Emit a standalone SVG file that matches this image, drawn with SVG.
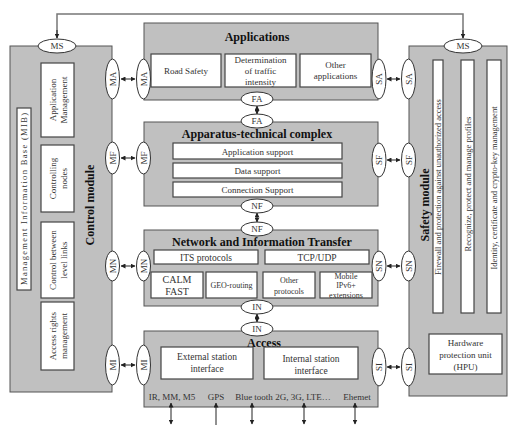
<svg xmlns="http://www.w3.org/2000/svg" width="509" height="425" viewBox="0 0 509 425" font-family="'Liberation Serif', 'DejaVu Serif', serif">
<defs>
<marker id="ah" viewBox="0 0 10 10" refX="9" refY="5" markerWidth="5" markerHeight="5" orient="auto-start-reverse" markerUnits="userSpaceOnUse">
<path d="M0,0 L10,5 L0,10 z" fill="#222"/>
</marker>
<style>
.layer{fill:#c0c0c0;stroke:#555;stroke-width:1}
.box{fill:#fff;stroke:#444;stroke-width:1.2}
.ell{fill:#fff;stroke:#333;stroke-width:1}
text{font-family:'Liberation Serif','DejaVu Serif',serif}
.t{font-size:9px;fill:#333;text-anchor:middle}
.s{font-size:8px}
.b{font-weight:bold;font-size:12px;fill:#111;text-anchor:middle}
.c{stroke:#222;stroke-width:1;fill:none}
.top{stroke:#777;stroke-width:1.5;fill:none}
</style>
</defs>
<rect width="509" height="425" fill="#fff"/>

<g id="control-module">
<rect class="layer" x="10" y="46" width="102" height="346"/>
<text class="b" transform="translate(94,205) rotate(-90)">Control module</text>
<rect class="box" x="17" y="108" width="14" height="182"/>
<text class="t" transform="translate(27,199) rotate(-90)" style="font-size:8.5px" textLength="172" lengthAdjust="spacing">Management Information Base (MIB)</text>
<rect class="box" x="41" y="63" width="33" height="74"/>
<text class="t" transform="translate(57,100) rotate(-90)"><tspan x="0" y="-1">Application</tspan><tspan x="0" y="10">Management</tspan></text>
<rect class="box" x="41" y="145" width="33" height="67"/>
<text class="t" transform="translate(57,178.5) rotate(-90)"><tspan x="0" y="-1">Controlling</tspan><tspan x="0" y="10">nodes</tspan></text>
<rect class="box" x="41" y="222" width="33" height="76"/>
<text class="t" transform="translate(57,260) rotate(-90)"><tspan x="0" y="-1">Control between</tspan><tspan x="0" y="10">level links</tspan></text>
<rect class="box" x="41" y="302" width="33" height="68"/>
<text class="t" transform="translate(57,336) rotate(-90)"><tspan x="0" y="-1">Access rights</tspan><tspan x="0" y="10">management</tspan></text>
</g>

<g id="safety-module">
<rect class="layer" x="409" y="46" width="98" height="350"/>
<text class="b" transform="translate(429,205) rotate(-90)">Safety module</text>
<rect class="box" x="433" y="60" width="10" height="253"/>
<text class="t" transform="translate(441,187) rotate(-90)" style="font-size:8.5px">Firewall and protection against unauthorized access</text>
<rect class="box" x="461" y="60" width="13" height="253"/>
<text class="t" transform="translate(470.5,184) rotate(-90)" style="font-size:8.5px">Recognize, protect and manage profiles</text>
<rect class="box" x="487" y="60" width="14" height="253"/>
<text class="t" transform="translate(497,188) rotate(-90)" style="font-size:8.5px">Identity, certificate and crypto-key management</text>
<rect class="box" x="429" y="334" width="73" height="40"/>
<text class="t"><tspan x="465.5" y="346">Hardware</tspan><tspan x="465.5" y="358">protection unit</tspan><tspan x="465.5" y="370">(HPU)</tspan></text>
</g>

<g id="applications">
<rect class="layer" x="144" y="23" width="234" height="77"/>
<text class="b" x="257" y="41">Applications</text>
<rect class="box" x="151" y="54" width="70" height="33"/>
<text class="t" x="186" y="74">Road Safety</text>
<rect class="box" x="225" y="54" width="71" height="33"/>
<text class="t"><tspan x="260.5" y="63">Determination</tspan><tspan x="260.5" y="74">of traffic</tspan><tspan x="260.5" y="85">intensity</tspan></text>
<rect class="box" x="300" y="54" width="71" height="33"/>
<text class="t"><tspan x="335.5" y="68">Other</tspan><tspan x="335.5" y="79">applications</tspan></text>
</g>

<g id="apparatus">
<rect class="layer" x="144" y="122" width="234" height="84"/>
<text class="b" x="257" y="138">Apparatus-technical  complex</text>
<rect class="box" x="173" y="143" width="169" height="16"/>
<text class="t" x="257.5" y="154.5">Application support</text>
<rect class="box" x="173" y="163" width="169" height="15"/>
<text class="t" x="257.5" y="174">Data support</text>
<rect class="box" x="173" y="182" width="169" height="15"/>
<text class="t" x="257.5" y="193">Connection Support</text>
</g>

<g id="network">
<rect class="layer" x="144" y="230" width="234" height="76"/>
<text class="b" x="262" y="246">Network and Information Transfer</text>
<rect class="box" x="154" y="250" width="104" height="14"/>
<text class="t" x="206" y="260.5" style="font-size:9.5px">ITS protocols</text>
<rect class="box" x="265" y="250" width="104" height="14"/>
<text class="t" x="317" y="260.5" style="font-size:9.5px">TCP/UDP</text>
<rect class="box" x="151" y="272" width="52" height="26"/>
<text class="t" style="font-size:10px"><tspan x="177" y="283">CALM</tspan><tspan x="177" y="294.5">FAST</tspan></text>
<rect class="box" x="206" y="272" width="51" height="26"/>
<text class="t s" x="231.5" y="288">GEO-routing</text>
<rect class="box" x="263" y="272" width="52" height="26"/>
<text class="t s"><tspan x="289" y="283">Other</tspan><tspan x="289" y="294">protocols</tspan></text>
<rect class="box" x="320" y="272" width="52" height="26"/>
<text class="t s"><tspan x="346" y="279">Mobile</tspan><tspan x="346" y="288">IPv6+</tspan><tspan x="346" y="297.5">extensions</tspan></text>
</g>

<g id="access">
<rect class="layer" x="144" y="331" width="234" height="76"/>
<text class="b" x="264" y="347">Access</text>
<rect class="box" x="161" y="347" width="92" height="32"/>
<text class="t" style="font-size:9.5px"><tspan x="207" y="360">External station</tspan><tspan x="207" y="372">interface</tspan></text>
<rect class="box" x="264" y="347" width="94" height="32"/>
<text class="t" style="font-size:9.5px"><tspan x="311" y="362">Internal station</tspan><tspan x="311" y="374">interface</tspan></text>
<text class="t" x="172" y="400">IR, MM, M5</text>
<text class="t" x="216" y="400">GPS</text>
<text class="t" x="254" y="400">Blue tooth</text>
<text class="t" x="303" y="400">2G, 3G, LTE…</text>
<text class="t" x="357" y="400">Ehemet</text>
</g>

<g id="interfaces">
<ellipse class="ell" cx="57" cy="46" rx="19" ry="7"/><text class="t" x="57" y="49">MS</text>
<ellipse class="ell" cx="463" cy="46" rx="19" ry="7"/><text class="t" x="463" y="49">MS</text>
<ellipse class="ell" cx="257" cy="99" rx="16" ry="7"/><text class="t" x="257" y="102">FA</text>
<ellipse class="ell" cx="257" cy="121" rx="16" ry="7"/><text class="t" x="257" y="124">FA</text>
<ellipse class="ell" cx="257" cy="206" rx="16" ry="7"/><text class="t" x="257" y="209">NF</text>
<ellipse class="ell" cx="257" cy="229" rx="16" ry="7"/><text class="t" x="257" y="232">NF</text>
<ellipse class="ell" cx="257" cy="307" rx="16" ry="7"/><text class="t" x="257" y="310">IN</text>
<ellipse class="ell" cx="257" cy="329" rx="16" ry="7"/><text class="t" x="257" y="332">IN</text>

<ellipse class="ell" cx="112.5" cy="79" rx="7" ry="20"/><text class="t" transform="translate(115.5,79) rotate(-90)">MA</text>
<ellipse class="ell" cx="143.5" cy="79" rx="7" ry="20"/><text class="t" transform="translate(146.5,79) rotate(-90)">MA</text>
<ellipse class="ell" cx="112.5" cy="158" rx="7" ry="16"/><text class="t" transform="translate(115.5,158) rotate(-90)">MF</text>
<ellipse class="ell" cx="143.5" cy="158" rx="7" ry="16"/><text class="t" transform="translate(146.5,158) rotate(-90)">MF</text>
<ellipse class="ell" cx="112.5" cy="266" rx="7" ry="15"/><text class="t" transform="translate(115.5,266) rotate(-90)">MN</text>
<ellipse class="ell" cx="143.5" cy="266" rx="7" ry="15"/><text class="t" transform="translate(146.5,266) rotate(-90)">MN</text>
<ellipse class="ell" cx="112.5" cy="365" rx="7" ry="20"/><text class="t" transform="translate(115.5,365) rotate(-90)">MI</text>
<ellipse class="ell" cx="143.5" cy="365" rx="7" ry="20"/><text class="t" transform="translate(146.5,365) rotate(-90)">MI</text>

<ellipse class="ell" cx="379" cy="79" rx="7" ry="20"/><text class="t" transform="translate(382,79) rotate(-90)">SA</text>
<ellipse class="ell" cx="408.5" cy="79" rx="7" ry="20"/><text class="t" transform="translate(411.5,79) rotate(-90)">SA</text>
<ellipse class="ell" cx="379" cy="160" rx="7" ry="17"/><text class="t" transform="translate(382,160) rotate(-90)">SF</text>
<ellipse class="ell" cx="408.5" cy="160" rx="7" ry="17"/><text class="t" transform="translate(411.5,160) rotate(-90)">SF</text>
<ellipse class="ell" cx="379" cy="266" rx="7" ry="15"/><text class="t" transform="translate(382,266) rotate(-90)">SN</text>
<ellipse class="ell" cx="408.5" cy="266" rx="7" ry="15"/><text class="t" transform="translate(411.5,266) rotate(-90)">SN</text>
<ellipse class="ell" cx="379" cy="367" rx="7" ry="19"/><text class="t" transform="translate(382,367) rotate(-90)">SI</text>
<ellipse class="ell" cx="408.5" cy="367" rx="7" ry="19"/><text class="t" transform="translate(411.5,367) rotate(-90)">SI</text>
</g>

<g id="connectors">
<path class="top" d="M57,38 V14 H463 V38"/>
<path class="c" d="M57,30 V38" marker-end="url(#ah)"/>
<path class="c" d="M463,30 V38" marker-end="url(#ah)"/>
<path class="c" d="M121,79 H135" marker-start="url(#ah)" marker-end="url(#ah)"/>
<path class="c" d="M121,158 H135" marker-start="url(#ah)" marker-end="url(#ah)"/>
<path class="c" d="M121,266 H135" marker-start="url(#ah)" marker-end="url(#ah)"/>
<path class="c" d="M121,365 H135" marker-start="url(#ah)" marker-end="url(#ah)"/>
<path class="c" d="M387,79 H400" marker-start="url(#ah)" marker-end="url(#ah)"/>
<path class="c" d="M387,160 H400" marker-start="url(#ah)" marker-end="url(#ah)"/>
<path class="c" d="M387,266 H400" marker-start="url(#ah)" marker-end="url(#ah)"/>
<path class="c" d="M387,367 H400" marker-start="url(#ah)" marker-end="url(#ah)"/>
<path class="c" d="M257,106 V114" marker-start="url(#ah)" marker-end="url(#ah)"/>
<path class="c" d="M257,213 V222" marker-start="url(#ah)" marker-end="url(#ah)"/>
<path class="c" d="M257,314 V322" marker-start="url(#ah)" marker-end="url(#ah)"/>
<path class="c" d="M171,403 V424" marker-start="url(#ah)" marker-end="url(#ah)"/>
<path class="c" d="M216,425 V403" marker-end="url(#ah)"/>
<path class="c" d="M252,403 V424" marker-start="url(#ah)" marker-end="url(#ah)"/>
<path class="c" d="M304,403 V424" marker-start="url(#ah)" marker-end="url(#ah)"/>
<path class="c" d="M355,403 V424" marker-start="url(#ah)" marker-end="url(#ah)"/>
</g>
</svg>
